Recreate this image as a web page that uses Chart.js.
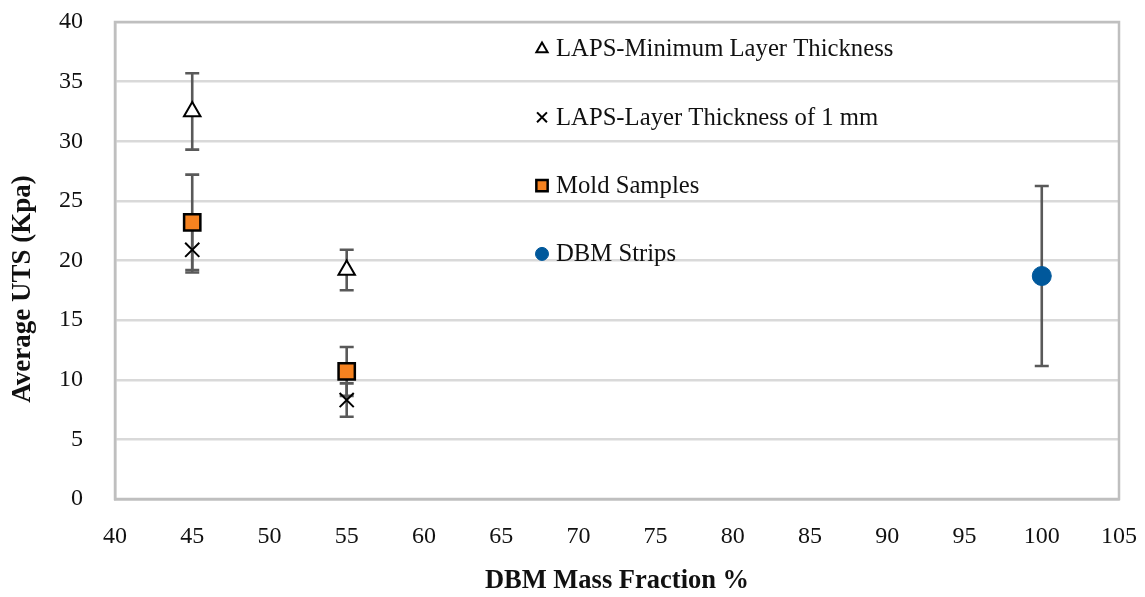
<!DOCTYPE html>
<html>
<head>
<meta charset="utf-8">
<script src="https://cdn.jsdelivr.net/npm/chart.js@4.4.1/dist/chart.umd.min.js"></script>
<style>
html,body{margin:0;padding:0;background:#fff;}
#wrap{width:1145px;height:597px;position:relative;}
</style>
</head>
<body>
<div id="wrap"><canvas id="c" width="1145" height="597"></canvas></div>
<script>
// ---- data ----
const seriesNames = ["LAPS-Minimum Layer Thickness", "LAPS-Layer Thickness of 1 mm", "Mold Samples", "DBM Strips"];
const lapsMinX = [45, 55];
const lapsMinY = [32.5, 19.2];
const lapsMinErr = [3.2, 1.7];
const laps1mmX = [45, 55];
const laps1mmY = [20.9, 8.3];
const laps1mmErr = [1.9, 1.4];
const moldX = [45, 55];
const moldY = [23.2, 10.7];
const moldErr = [4.0, 2.05];
const stripsX = [100];
const stripsY = [18.7];
const stripsErr = [7.55];
const xTicks = [40, 45, 50, 55, 60, 65, 70, 75, 80, 85, 90, 95, 100, 105];
const yTicks = [0, 5, 10, 15, 20, 25, 30, 35, 40];
const xTitle = 'DBM Mass Fraction %';
const yTitle = 'Average UTS (Kpa)';

const FONT = "'Liberation Serif', 'DejaVu Serif', serif";

function pts(xs, ys, es) { return xs.map((x, i) => ({x: x, y: ys[i], err: es[i]})); }

const datasets = [
  {label: seriesNames[2], data: pts(moldX, moldY, moldErr), pointStyle: 'rect', pointRadius: 11.5, backgroundColor: '#f58220', borderColor: '#000', pointBorderWidth: 2.5, order: 3},
  {label: seriesNames[1], data: pts(laps1mmX, laps1mmY, laps1mmErr), pointStyle: 'crossRot', pointRadius: 10, backgroundColor: '#000', borderColor: '#000', pointBorderWidth: 2, order: 2},
  {label: seriesNames[0], data: pts(lapsMinX, lapsMinY, lapsMinErr), pointStyle: 'triangle', pointRadius: 9.5, backgroundColor: '#fff', borderColor: '#000', pointBorderWidth: 2, order: 1},
  {label: seriesNames[3], data: pts(stripsX, stripsY, stripsErr), pointStyle: 'circle', pointRadius: 9.5, backgroundColor: '#00589b', borderColor: '#00589b', pointBorderWidth: 1, order: 4}
];

const errorBars = {
  id: 'errorBars',
  beforeDatasetsDraw(chart) {
    const ctx = chart.ctx, xs = chart.scales.x, ys = chart.scales.y;
    ctx.save();
    ctx.strokeStyle = '#595959';
    ctx.lineWidth = 2.6;
    chart.data.datasets.forEach(ds => {
      ds.data.forEach(p => {
        const px = xs.getPixelForValue(p.x);
        const top = ys.getPixelForValue(p.y + p.err);
        const bot = ys.getPixelForValue(p.y - p.err);
        ctx.beginPath();
        ctx.moveTo(px, top); ctx.lineTo(px, bot);
        ctx.moveTo(px - 7, top); ctx.lineTo(px + 7, top);
        ctx.moveTo(px - 7, bot); ctx.lineTo(px + 7, bot);
        ctx.stroke();
      });
    });
    ctx.restore();
  }
};

const customLegend = {
  id: 'customLegend',
  afterDraw(chart) {
    const ctx = chart.ctx, area = chart.chartArea;
    const order = [2, 1, 0, 3];
    const legendStyles = [
      {radius: 6.5, width: 2},
      {radius: 7, width: 2},
      {radius: 8, width: 2.5},
      {radius: 6.5, width: 1}
    ];
    const mx = area.left + 427;
    const tx = area.left + 441;
    const y0 = area.top + 27;
    const step = 68.3;
    ctx.save();
    order.forEach((di, i) => {
      const ds = chart.data.datasets[di];
      const y = y0 + i * step;
      ctx.fillStyle = ds.backgroundColor;
      ctx.strokeStyle = ds.borderColor;
      ctx.lineWidth = legendStyles[i].width;
      Chart.helpers.drawPoint(ctx, {pointStyle: ds.pointStyle, radius: legendStyles[i].radius, rotation: 0, borderWidth: legendStyles[i].width}, mx, y);
      ctx.fillStyle = '#111';
      ctx.font = "24.7px " + FONT;
      ctx.textBaseline = 'middle';
      ctx.textAlign = 'left';
      ctx.fillText(ds.label, tx, y + 1);
    });
    ctx.restore();
  }
};

const yTitlePlugin = {
  id: 'yTitlePlugin',
  afterDraw(chart) {
    const ctx = chart.ctx;
    ctx.save();
    ctx.translate(23, 289);
    ctx.rotate(-Math.PI / 2);
    ctx.fillStyle = '#111';
    ctx.font = "bold 27px " + FONT;
    ctx.textAlign = 'center';
    ctx.textBaseline = 'middle';
    ctx.fillText(yTitle, 0, 0);
    ctx.restore();
  }
};

const frame = {
  id: 'frame',
  afterDraw(chart) {
    const a = chart.chartArea, ctx = chart.ctx;
    ctx.save();
    ctx.strokeStyle = '#bfbfbf';
    ctx.lineWidth = 2.5;
    ctx.strokeRect(a.left, a.top, a.right - a.left, a.bottom - a.top);
    ctx.restore();
  }
};

new Chart(document.getElementById('c'), {
  type: 'scatter',
  data: {datasets: datasets},
  plugins: [errorBars, customLegend, yTitlePlugin, frame],
  options: {
    responsive: false,
    animation: false,
    layout: {padding: {left: 0, top: 22, right: 26, bottom: 0}},
    plugins: {legend: {display: false}, tooltip: {enabled: false}},
    scales: {
      x: {
        type: 'linear', min: 40, max: 105,
        afterBuildTicks(s) { s.ticks = xTicks.map(v => ({value: v})); },
        afterFit(s) { s.height = 98; s.paddingLeft = 0; s.paddingRight = 0; },
        grid: {display: false, drawTicks: false},
        border: {display: true, color: '#bfbfbf', width: 2.5},
        ticks: {padding: 23, color: '#111', font: {family: FONT, size: 24}},
        title: {display: true, text: xTitle, color: '#111', font: {family: FONT, size: 26.5, weight: 'bold'}, padding: {top: 20, bottom: 0}}
      },
      y: {
        type: 'linear', min: 0, max: 40,
        afterBuildTicks(s) { s.ticks = yTicks.map(v => ({value: v})); },
        afterFit(s) { s.width = 115; s.paddingTop = 0; s.paddingBottom = 0; },
        grid: {color: '#d9d9d9', lineWidth: 2.5, drawTicks: false},
        border: {display: true, color: '#bfbfbf', width: 2.5},
        ticks: {padding: 32, color: '#111', font: {family: FONT, size: 24}},
        title: {display: false}
      }
    }
  }
});
</script>
</body>
</html>
